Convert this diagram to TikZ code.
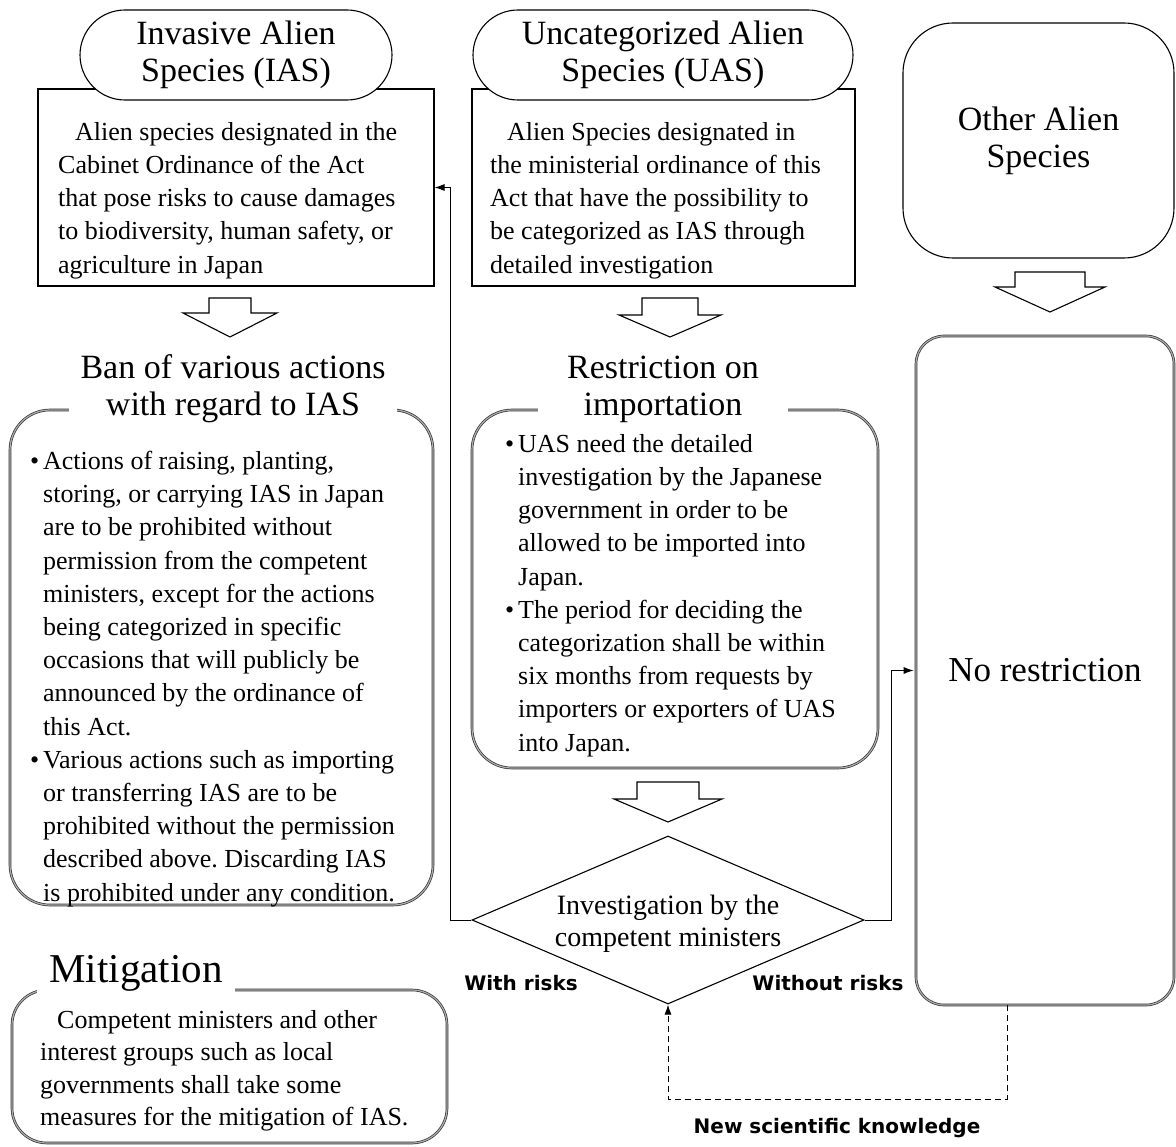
\documentclass[tikz,border=0pt]{standalone}
\usepackage{fontspec}
\setmainfont{Liberation Serif}
\newfontfamily\labelfont{DejaVu Sans}
\usetikzlibrary{shapes.geometric,arrows.meta,positioning}
\frenchspacing

% hollow block arrow pointing down: x, top, base of head, tip, half shaft, half head
\newcommand{\hollowdown}[6]{%
  \draw[hollow] (#1-#5,#2) -- (#1+#5,#2) -- (#1+#5,#3) -- (#1+#6,#3) -- (#1,#4)
    -- (#1-#6,#3) -- (#1-#5,#3) -- cycle;}

\begin{document}
\begin{tikzpicture}[x=1pt,y=-1pt,
    bodytext/.style={font=\fontsize{26}{33.2}\selectfont, align=left, inner sep=0pt},
    headtext/.style={font=\fontsize{34}{37}\selectfont, align=center},
    plainbox/.style={draw, line width=1.1pt},
    pill/.style={draw, fill=white, line width=1.1pt, rounded corners=45pt},
    frameline/.style={draw=black!80, double=gray!65, double distance=1.2pt, line width=0.7pt, rounded corners=40pt},
    riskfont/.style={font=\labelfont\bfseries\fontsize{20}{23}\selectfont},
    flowline/.style={line width=1pt},
    hollow/.style={draw, fill=white, line width=1.1pt}]

    \useasboundingbox (0,0) rectangle (1176,1147);

    % Top boxes
    \node[plainbox, minimum width=396pt, minimum height=197pt] (iasbox) at (236,187.5) {};
    \node[plainbox, minimum width=383pt, minimum height=197pt] (uasbox) at (663.5,187.5) {};
    \node[pill, headtext, minimum width=312pt, minimum height=90pt] (iashead) at (236,55) {\raisebox{-3pt}{Invasive Alien}\\\raisebox{-3pt}{Species (IAS)}};
    \node[pill, headtext, minimum width=380pt, minimum height=90pt] (uashead) at (663,55) {\raisebox{-3pt}{Uncategorized Alien}\\\raisebox{-3pt}{Species (UAS)}};
    \node[draw, line width=1.1pt, rounded corners=50pt, headtext, minimum width=271pt, minimum height=235pt] (otherbox) at (1038.5,140.5) {Other Alien\\Species};

    \node[bodytext, anchor=north west] (iastext) at (58,122) {\hspace*{17pt}Alien species designated in the\\
        Cabinet Ordinance of the Act\\
        that pose risks to cause damages\\
        to biodiversity, human safety, or\\
        agriculture in Japan};
    \node[bodytext, anchor=north west] (uastext) at (490,122) {\hspace*{17pt}Alien Species designated in\\
        the ministerial ordinance of this\\
        Act that have the possibility to\\
        be categorized as IAS through\\
        detailed investigation};

    % Hollow arrows
    \hollowdown{230}{298}{313}{337}{21}{47}
    \hollowdown{670}{298}{315}{337}{28}{51}
    \hollowdown{668}{782}{799}{822}{31}{54}
    \hollowdown{1050}{272}{287}{312}{35}{55}

    % Ban frame
    \draw[frameline] (10,410) rectangle (433,905);
    \node[headtext, fill=white, inner xsep=0pt, inner ysep=2pt, minimum width=328pt] (bantitle) at (233,389) {Ban of various actions\\with regard to IAS};
    \node[bodytext, anchor=north west] (bantext) at (43,451) {\llap{\textbullet\hspace{4pt}}Actions of raising, planting,\\
        storing, or carrying IAS in Japan\\
        are to be prohibited without\\
        permission from the competent\\
        ministers, except for the actions\\
        being categorized in specific\\
        occasions that will publicly be\\
        announced by the ordinance of\\
        this Act.\\
        \llap{\textbullet\hspace{4pt}}Various actions such as importing\\
        or transferring IAS are to be\\
        prohibited without the permission\\
        described above. Discarding IAS\\
        is prohibited under any condition.};

    % Restriction frame
    \draw[frameline] (472,410) rectangle (878,768);
    \node[headtext, fill=white, inner xsep=0pt, inner ysep=2pt, minimum width=250pt] (restrtitle) at (663,389) {Restriction on\\importation};
    \node[bodytext, anchor=north west] (restrtext) at (518,434) {\llap{\textbullet\hspace{4pt}}UAS need the detailed\\
        investigation by the Japanese\\
        government in order to be\\
        allowed to be imported into\\
        Japan.\\
        \llap{\textbullet\hspace{4pt}}The period for deciding the\\
        categorization shall be within\\
        six months from requests by\\
        importers or exporters of UAS\\
        into Japan.};

    % Mitigation frame
    \draw[frameline, rounded corners=35pt] (12,990) rectangle (447,1143);
    \node[font=\fontsize{41}{44}\selectfont, fill=white, inner xsep=0pt, inner ysep=2pt, minimum width=198pt] (mitititle) at (136,973) {Mitigation};
    \node[bodytext, anchor=north west, font=\fontsize{26}{32.4}\selectfont] (mititext) at (40,1010) {\hspace*{17pt}Competent ministers and other\\
        interest groups such as local\\
        governments shall take some\\
        measures for the mitigation of IAS.};

    % No restriction
    \node[frameline, rounded corners=28pt, minimum width=258pt, minimum height=669pt, font=\fontsize{35}{38}\selectfont] (norestr) at (1045,670.5) {No restriction};

    % Decision
    \node[draw, diamond, line width=1.1pt, fill=white, inner sep=0pt, minimum width=392pt, minimum height=168pt] (invest) at (668,920) {};
    \node[font=\fontsize{28}{32}\selectfont, align=center] (investtext) at (668,924) {Investigation by the\\competent ministers};

    % Connectors
    \draw[flowline, -{Latex[length=10pt,width=7pt]}] (invest.west) -- ++(-21,0) |- (iasbox.east);
    \draw[flowline, -{Latex[length=10pt,width=7pt]}, shorten >=2pt] (invest.east) -- ++(27,0) |- (norestr.west);
    \draw[flowline, dash pattern=on 6pt off 4pt, -{Latex[length=10pt,width=7pt]}] ([xshift=-38pt]norestr.south) -- ++(0,94) -| (invest.south);

    % Labels
    \node[riskfont] (withrisk) at (521,983) {With risks};
    \node[riskfont] (withoutrisk) at (828,983) {Without risks};
    \node[riskfont] (newknow) at (837,1128) {New scientific knowledge};
\end{tikzpicture}
\end{document}
